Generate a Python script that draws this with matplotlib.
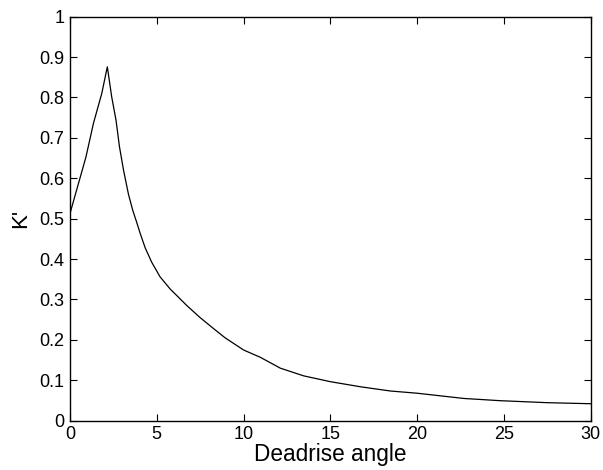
import matplotlib
matplotlib.use("Agg")
import matplotlib.pyplot as plt

plt.rcParams['font.family'] = ['Liberation Sans', 'DejaVu Sans']

deadrise = [0, 0.92, 1.35, 1.83, 2.15, 2.40, 2.65, 2.85, 3.08, 3.37, 3.62,
            3.85, 4.04, 4.33, 4.71, 5.19, 5.77, 6.31, 6.73, 7.5, 8.27, 8.94,
            10, 10.96, 12.12, 13.46, 15, 16.73, 18.46, 20, 22.7, 24.8, 27.5, 30]
k_prime = [0.513, 0.653, 0.736, 0.81, 0.876, 0.802, 0.744, 0.678, 0.621,
           0.560, 0.520, 0.490, 0.464, 0.428, 0.392, 0.356, 0.326, 0.303,
           0.285, 0.255, 0.228, 0.205, 0.175, 0.157, 0.130, 0.111, 0.0966,
           0.084, 0.0735, 0.068, 0.055, 0.0495, 0.0446, 0.042]

xticks = [0, 5, 10, 15, 20, 25, 30]
yticks = [0, 0.1, 0.2, 0.3, 0.4, 0.5, 0.6, 0.7, 0.8, 0.9, 1]
yticklabels = ['0', '0.1', '0.2', '0.3', '0.4', '0.5', '0.6', '0.7', '0.8', '0.9', '1']

fig = plt.figure(figsize=(6.03, 4.70), dpi=100)
ax = fig.add_axes([0.1161, 0.1049, 0.9796 - 0.1161, 0.9645 - 0.1049])
ax.plot(deadrise, k_prime, color='black', linewidth=0.9)
ax.set_xlim(0, 30)
ax.set_ylim(0, 1)
ax.set_xticks(xticks)
ax.set_xticklabels([str(t) for t in xticks])
ax.set_yticks(yticks)
ax.set_yticklabels(yticklabels)
ax.tick_params(direction='in', length=5, width=0.8, top=True, right=True,
               labelsize=13, pad=4)
for s in ax.spines.values():
    s.set_linewidth(1.0)
ax.set_xlabel('Deadrise angle', fontsize=16.3, labelpad=0)
ax.set_ylabel("K'", fontsize=16, labelpad=6)
fig.savefig('out.png', dpi=100)
